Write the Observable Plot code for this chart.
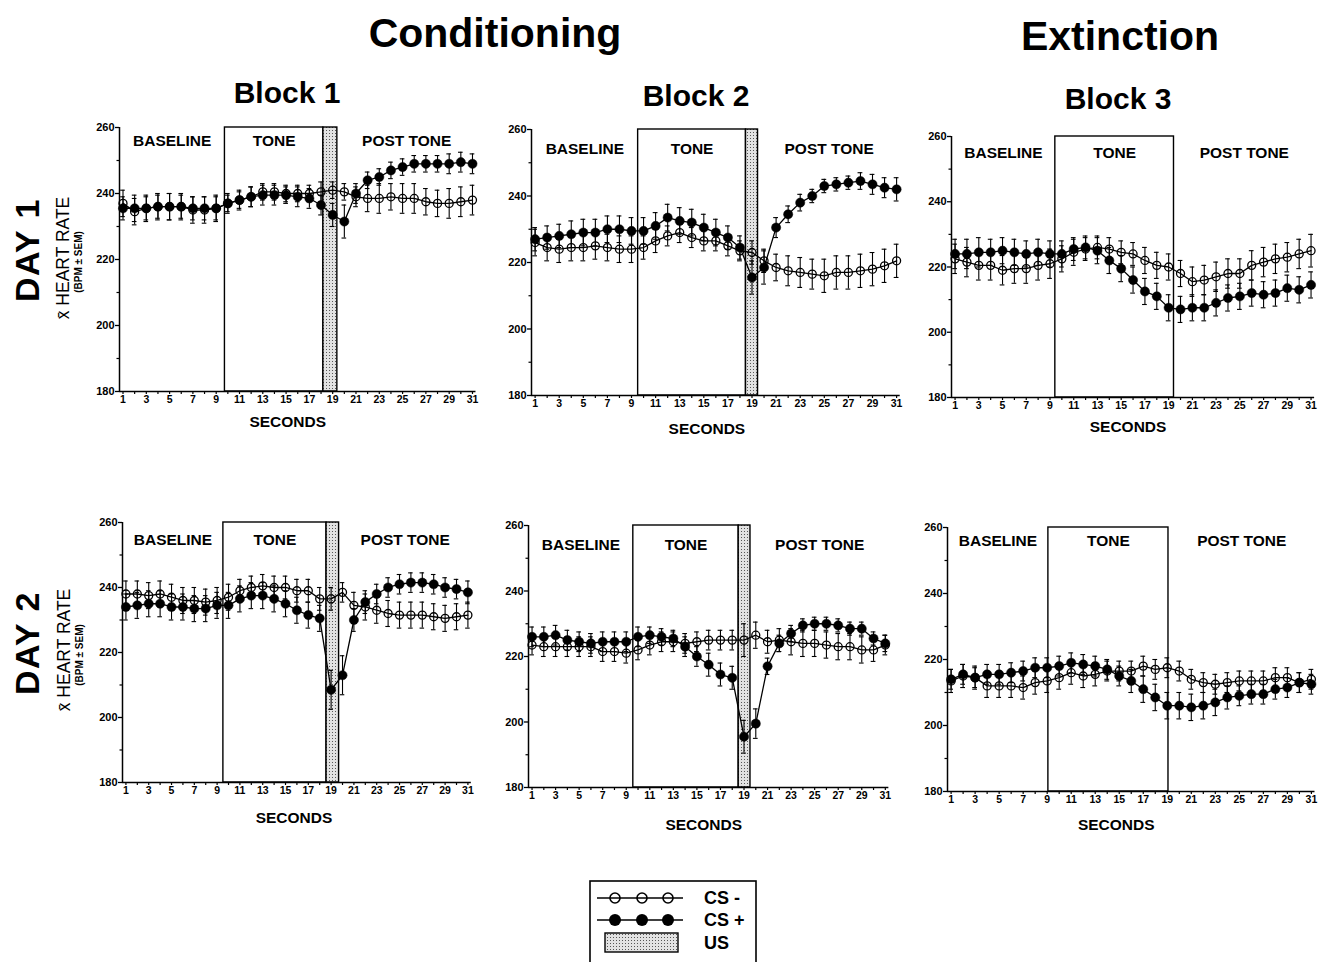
<!DOCTYPE html>
<html><head><meta charset="utf-8">
<script src="https://cdn.jsdelivr.net/npm/d3@7"></script>
<script src="https://cdn.jsdelivr.net/npm/@observablehq/plot@0.6"></script>
<style>
body{margin:0;width:1318px;height:962px;position:relative;background:#fff;overflow:hidden;font-family:"Liberation Sans",Arial,Helvetica,sans-serif;color:#000}
.t{position:absolute;font-weight:bold;white-space:nowrap;transform:translate(-50%,-50%);line-height:1}
.v{position:absolute;white-space:nowrap;transform:translate(-50%,-50%) rotate(-90deg);line-height:1}
.p{position:absolute}
</style></head>
<body>
<svg width="0" height="0" style="position:absolute">
  <defs>
    <pattern id="stip" width="3" height="3" patternUnits="userSpaceOnUse">
      <rect width="3" height="3" fill="#e2e2e2"></rect>
      <rect x="1" y="1" width="1" height="1" fill="#555"></rect>
    </pattern>
  </defs>
</svg>
<div id="root"></div>
<script>
// ---------------- data ----------------
const seconds = [1,2,3,4,5,6,7,8,9,10,11,12,13,14,15,16,17,18,19,20,21,22,23,24,25,26,27,28,29,30,31];
const yTicks = [180,200,220,240,260];
const yMinorTicks = [190,210,230,250];
const xDomain = [0.7,31.3];
const periodNames = ["BASELINE","TONE","POST TONE"];
const seriesNames = ["CS -","CS +","US"];
const sectionTitles = ["Conditioning","Extinction"];
const blockTitles = ["Block 1","Block 2","Block 3"];
const dayTitles = ["DAY 1","DAY 2"];
const yAxisTitle = "x\u0304 HEART RATE";
const yAxisSub = "(BPM \u00b1 SEM)";
const xAxisTitle = "SECONDS";

// Day 1, Block 1
const d1b1Minus = [237,234.5,235.5,236,236,236,235,235,235.5,237,238,239,240.5,240.5,240,240,240,240.5,241,240.5,239,238.5,238.5,239,238.5,238.5,237.5,237,237,237.5,238];
const d1b1MinusSem = [4,4,4,4,4,4,4,4,4,3,3,3,2.5,2.5,2.5,2.5,2.5,3,2.5,2.5,3,4,4.5,4,4.5,4.5,4,4,4.5,4.5,4.5];
const d1b1Plus = [235.5,235.5,235.5,236,236,236,235.5,235.5,235.5,237,238,239,239.5,239.5,239.5,239,238.5,236.5,233.5,231.5,240,244,245,247,248,249,249,249,249,249.5,249];
const d1b1PlusSem = [3.5,4,3.5,3.5,4,3.5,3.5,3.5,3.5,2.5,2.5,3,3,3,2.5,3,3,3,3.5,5,3,2.5,2.5,2.5,2.5,2.5,2.5,2.5,3,3,3];
// Day 1, Block 2
const d1b2Minus = [226,224.5,224,224.5,224.5,225,224.5,224,224,224.5,226.5,228,229,227.5,226.5,226.5,225,223.5,223,220.5,218.5,217.5,217,216.5,216,217,217,217.5,218,219,220.5];
const d1b2MinusSem = [4,4,4,4,4,4,4,4,4,3.5,3.5,3,3,3,3,3,3,3,3.5,3.5,4,4.5,4.5,4.5,5,5,5,5,5,5,5];
const d1b2Plus = [227,227.5,228,228.5,229,229,230,230,229.5,229.5,231,233.5,232.5,232,230.5,229,227.5,224.5,215.5,218.5,230.5,234.5,238,240,243,243.5,244,244.5,243.5,242.5,242];
const d1b2PlusSem = [3.5,3.5,3.5,4,4,4,4,4,4,4,4,4,4,4,4,4,3.5,3.5,5,5,3,2.5,2.5,2,2,2,2,2.5,3,3,3.5];
// Day 1, Block 3
const d1b3Minus = [222.5,221.5,220.5,220.5,219,219.5,219.5,220.5,221,222.5,224.5,225.5,226,225.5,224.5,224,222,220.5,220,218,215.5,216,217,218,218,220.5,221.5,222.5,223,224,225];
const d1b3MinusSem = [4.5,4.5,4.5,4.5,4.5,4.5,4.5,4.5,4.5,4,4,3.5,3.5,3.5,3.5,3.5,4,4,4,4,4.5,4.5,4.5,4.5,4.5,4.5,4.5,4.5,4.5,4.5,5];
const d1b3Plus = [224,224,224.5,224.5,225,224.5,224,224.5,224,224,225.5,226,225,222,219.5,216,212.5,211,207.5,207,207.5,207.5,209,210.5,211,212,211.5,212,213.5,213,214.5];
const d1b3PlusSem = [4.5,4.5,4.5,4,4,4,4,4,4,4,3.5,3.5,4,4,4,4,4,4,4,4,4,4,4,4,4,4,4,4,4,4,4];
// Day 2, Block 1
const d2b1Minus = [238,238,237.5,238,237,236,236,235.5,236,237,239,240,240.5,240,240,239,239,236.5,236.5,238.5,234.5,234,233,232,231.5,231.5,231.5,231,230.5,231,231.5];
const d2b1MinusSem = [4,4,4,4,4,4,4,4,4,4,3.5,3.5,3.5,3.5,3.5,3.5,3.5,3.5,3.5,3,4,4,4,4,4,4,4,4,4,4,4];
const d2b1Plus = [234,234.5,235,235,234,234,233.5,233.5,234.5,234.5,236.5,237.5,237.5,236.5,235,233,231.5,230.5,208.5,213,230,235.5,238,240,241,241.5,241.5,241,240,239.5,238.5];
const d2b1PlusSem = [4,4,4,4,4,4,4,4,4,4,4,4,4,4,4,4,4,4,6,6,3.5,3.5,3,3,3,3,3,3,3,3,3.5];
// Day 2, Block 2
const d2b2Minus = [223.5,223,223,223,223,223,221.5,221.5,221,222,223.5,224.5,224.5,224,224.5,225,225,225,225,226.5,224.5,225,224.5,224,224,223.5,223,223,222,222,223.5];
const d2b2MinusSem = [3,3,3,3,3,3,3,3,3,3,3,3,3,3,3,3,3,3,5,4,3.5,3.5,4,4,4,4,4,4,4,3.5,3];
const d2b2Plus = [226,226,226.5,225,224.5,224,224.5,224.5,224.5,226,226.5,226,225.5,223,220,217.5,214.5,213.5,195.5,199.5,217,224,227,229.5,230,230,229.5,228.5,228.5,225.5,224];
const d2b2PlusSem = [3,3,3,3,3,3,3,3,3,3,2.5,2.5,2.5,3,3,3.5,3.5,3.5,5,4.5,2.5,2.5,2.5,2,2,2,2,2,2,2,2.5];
// Day 2, Block 3
const d2b3Minus = [213.5,215,214.5,212,212,212,211.5,213,213.5,214.5,216,215,215.5,216.5,216.5,216.5,218,217,217.5,216.5,214,213,212.5,213,213.5,213.5,213.5,214.5,214.5,213,214];
const d2b3MinusSem = [3.5,3.5,3.5,3.5,3.5,3.5,3.5,3.5,3.5,3.5,3.5,3.5,3.5,3,3,3,3,3,3,3,3,3,3,3,3,3,3,3,3,3,3];
const d2b3Plus = [214,215.5,214.5,215.5,215.5,216,216.5,217.5,217.5,218,219,218.5,218,217,215,213.5,211,208.5,206,206,205.5,206,207,208.5,209,209.5,209.5,211,211.5,213,212.5];
const d2b3PlusSem = [3,3,3,3,3,3,3,3,3,3,3,3,3,3,3,3.5,4,4,4,4,4,4,4,3.5,3,3,3,3,3,3,3];

// tone / US periods (seconds), per panel: D1B1, D1B2, D1B3, D2B1, D2B2, D2B3
const toneStart = [9.75,9.55,9.45,9.55,9.6,9.1];
const toneEnd   = [18.2,18.5,19.45,18.6,18.55,19.1];
const usEnd     = [19.4,19.5,null,19.7,19.55,null];

// ---------------- layout ----------------
const panels = [
  {minus:d1b1Minus, minusSem:d1b1MinusSem, plus:d1b1Plus, plusSem:d1b1PlusSem},
  {minus:d1b2Minus, minusSem:d1b2MinusSem, plus:d1b2Plus, plusSem:d1b2PlusSem},
  {minus:d1b3Minus, minusSem:d1b3MinusSem, plus:d1b3Plus, plusSem:d1b3PlusSem},
  {minus:d2b1Minus, minusSem:d2b1MinusSem, plus:d2b1Plus, plusSem:d2b1PlusSem},
  {minus:d2b2Minus, minusSem:d2b2MinusSem, plus:d2b2Plus, plusSem:d2b2PlusSem},
  {minus:d2b3Minus, minusSem:d2b3MinusSem, plus:d2b3Plus, plusSem:d2b3PlusSem}
];
const geo = [
  {x1:122.5, x31:472,   yTop:127, yBot:391, secDy:31, secDx:-10, labDy:14},
  {x1:535,   x31:896.5, yTop:129, yBot:395, secDy:34, secDx:-9,  labDy:20},
  {x1:955,   x31:1311,  yTop:136, yBot:397, secDy:30, secDx:-5,  labDy:17},
  {x1:125,   x31:467,   yTop:522, yBot:782, secDy:36, secDx:-3,  labDy:18},
  {x1:531.7, x31:885,   yTop:525, yBot:787, secDy:38, secDx:-5,  labDy:20},
  {x1:950.7, x31:1311,  yTop:527, yBot:791, secDy:34, secDx:-15, labDy:14}
];

function addText(cls, txt, x, y, css) {
  const d = document.createElement("div");
  d.className = cls; d.textContent = txt;
  d.style.left = x + "px"; d.style.top = y + "px";
  Object.assign(d.style, css || {});
  document.body.appendChild(d);
}

panels.forEach((p, i) => {
  const g = geo[i];
  const u = (g.x31 - g.x1) / 30;
  const left = g.x1 - (seconds[0] - xDomain[0]) * u;
  const right = g.x31 + (xDomain[1] - seconds[seconds.length - 1]) * u;
  const mL = 40, mR = 4, mT = 10, mB = 50;
  const width = right - left + mL + mR;
  const height = g.yBot - g.yTop + mT + mB;
  const minus = seconds.map((s, k) => ({s, v: p.minus[k], e: p.minusSem[k]}));
  const plus = seconds.map((s, k) => ({s, v: p.plus[k], e: p.plusSem[k]}));
  const tEnd = toneEnd[i];
  const postStart = usEnd[i] != null ? usEnd[i] : tEnd;
  const periods = [
    {label: periodNames[0], a: xDomain[0], b: toneStart[i]},
    {label: periodNames[1], a: toneStart[i], b: tEnd},
    {label: periodNames[2], a: postStart, b: xDomain[1]}
  ];
  const yMin = yTicks[0], yMax = yTicks[yTicks.length - 1];
  const errMarks = (data) => [
    Plot.ruleX(data, {x: "s", y1: d => d.v - d.e, y2: d => d.v + d.e, stroke: "black", strokeWidth: 1.1}),
    Plot.ruleY(data, {y: d => d.v + d.e, x1: d => d.s - 0.2, x2: d => d.s + 0.2, stroke: "black", strokeWidth: 1.1}),
    Plot.ruleY(data, {y: d => d.v - d.e, x1: d => d.s - 0.2, x2: d => d.s + 0.2, stroke: "black", strokeWidth: 1.1})
  ];
  const marks = [
    Plot.rect([periods[1]], {x1: "a", x2: "b", y1: () => yMin, y2: () => yMax, fill: "none", stroke: "black", strokeWidth: 1.4})
  ];
  if (usEnd[i] != null) {
    marks.push(Plot.rect([{a: tEnd, b: usEnd[i]}], {x1: "a", x2: "b", y1: () => yMin, y2: () => yMax, fill: "url(#stip)", stroke: "black", strokeWidth: 1.4}));
  }
  marks.push(
    Plot.ruleY([yMin], {stroke: "black", strokeWidth: 1.5}),
    Plot.ruleX([xDomain[0]], {stroke: "black", strokeWidth: 1.5}),
    Plot.axisY({ticks: yTicks, tickSize: 4, tickPadding: 1, tickFormat: d => String(d), fontSize: 11, fontWeight: "bold", strokeWidth: 1.3, label: null}),
    Plot.axisY({ticks: yMinorTicks, tickSize: 2.5, tickFormat: () => "", strokeWidth: 1.2, label: null}),
    Plot.axisX({ticks: seconds, tickSize: 3, tickPadding: 1.5, tickFormat: d => (d % 2 ? String(d) : ""), fontSize: 10.5, fontWeight: "bold", strokeWidth: 1.2, label: null}),
    Plot.text(periods, {x: d => (d.a + d.b) / 2, frameAnchor: "top", dy: g.labDy, lineAnchor: "middle", text: "label", fontSize: 15.5, fontWeight: "bold"}),
    Plot.text([xAxisTitle], {frameAnchor: "bottom", lineAnchor: "middle", dy: g.secDy, dx: g.secDx, text: d => d, fontSize: 15.5, fontWeight: "bold"}),
    Plot.line(minus, {x: "s", y: "v", stroke: "black", strokeWidth: 1.3}),
    Plot.line(plus, {x: "s", y: "v", stroke: "black", strokeWidth: 1.3}),
    ...errMarks(minus),
    ...errMarks(plus),
    Plot.dot(minus, {x: "s", y: "v", r: 4, fill: "none", stroke: "black", strokeWidth: 1.3}),
    Plot.dot(plus, {x: "s", y: "v", r: 4.6, fill: "black", stroke: "black", strokeWidth: 0.5})
  );
  const chart = Plot.plot({
    width, height,
    marginLeft: mL, marginRight: mR, marginTop: mT, marginBottom: mB,
    x: {domain: xDomain, label: null},
    y: {domain: [yMin, yMax], label: null},
    style: {fontFamily: "'Liberation Sans', Arial, sans-serif", background: "transparent", overflow: "visible", color: "black"},
    marks
  });
  chart.classList.add("p");
  chart.style.left = (left - mL) + "px";
  chart.style.top = (g.yTop - mT) + "px";
  document.body.appendChild(chart);
});

// titles
addText("t", sectionTitles[0], 495, 33, {fontSize: "41px"});
addText("t", sectionTitles[1], 1120, 36, {fontSize: "41px"});
addText("t", blockTitles[0], 287, 93, {fontSize: "30px"});
addText("t", blockTitles[1], 696, 96, {fontSize: "30px"});
addText("t", blockTitles[2], 1118, 99, {fontSize: "30px"});
addText("v", dayTitles[0], 27, 250, {fontSize: "34px", fontWeight: "bold", letterSpacing: "1.5px"});
addText("v", dayTitles[1], 27, 643, {fontSize: "34px", fontWeight: "bold", letterSpacing: "1.5px"});
addText("v", yAxisTitle, 64, 258, {fontSize: "17.5px"});
addText("v", yAxisSub, 79, 262, {fontSize: "10px", fontWeight: "bold"});
addText("v", yAxisTitle, 65, 650, {fontSize: "17.5px"});
addText("v", yAxisSub, 80, 655, {fontSize: "10px", fontWeight: "bold"});

// legend
const NS = "http://www.w3.org/2000/svg";
const lg = document.createElementNS(NS, "svg");
lg.setAttribute("width", 170); lg.setAttribute("height", 90);
lg.style.position = "absolute"; lg.style.left = "588px"; lg.style.top = "879px";
let s = `<rect x="2" y="2" width="166" height="100" fill="none" stroke="black" stroke-width="1.6"/>`;
s += `<line x1="9" x2="95" y1="19" y2="19" stroke="black" stroke-width="1.6"/>`;
for (const cx of [27, 54, 80]) s += `<circle cx="${cx}" cy="19" r="5" fill="none" stroke="black" stroke-width="1.6"/>`;
s += `<line x1="9" x2="95" y1="41" y2="41" stroke="black" stroke-width="1.6"/>`;
for (const cx of [27, 54, 80]) s += `<circle cx="${cx}" cy="41" r="6" fill="black"/>`;
s += `<rect x="17" y="54" width="73" height="19" fill="url(#stip)" stroke="black" stroke-width="1.4"/>`;
const ly = [19, 41, 64];
seriesNames.forEach((n, k) => {
  s += `<text x="116" y="${ly[k]}" dy="0.36em" font-family="Liberation Sans, Arial, sans-serif" font-weight="bold" font-size="18">${n}</text>`;
});
lg.innerHTML = s;
document.body.appendChild(lg);
</script>
</body></html>
